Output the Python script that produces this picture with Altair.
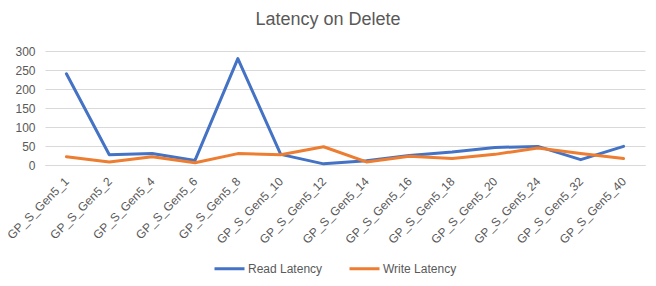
import altair as alt
import pandas as pd

categories = ["GP_S_Gen5_1", "GP_S_Gen5_2", "GP_S_Gen5_4", "GP_S_Gen5_6", "GP_S_Gen5_8",
              "GP_S_Gen5_10", "GP_S_Gen5_12", "GP_S_Gen5_14", "GP_S_Gen5_16", "GP_S_Gen5_18",
              "GP_S_Gen5_20", "GP_S_Gen5_24", "GP_S_Gen5_32", "GP_S_Gen5_40"]
read_latency = [240, 27, 30, 12, 280, 28, 3, 11, 25, 34, 46, 49, 14, 49]
write_latency = [22, 8, 22, 6, 30, 27, 48, 8, 23, 17, 28, 45, 30, 17]
series_names = ["Read Latency", "Write Latency"]
y_ticks = [0, 50, 100, 150, 200, 250, 300]

rows = []
for c, r, w in zip(categories, read_latency, write_latency):
    rows.append({"cat": c, "series": series_names[0], "value": r})
    rows.append({"cat": c, "series": series_names[1], "value": w})
df = pd.DataFrame(rows)

FONT = "Liberation Sans"
GRAY = "#595959"

chart = alt.Chart(df).mark_line(strokeWidth=3, strokeCap="round", strokeJoin="round").encode(
    x=alt.X("cat:N", sort=categories, title=None,
            scale=alt.Scale(type="point", padding=0.5),
            axis=alt.Axis(labelAngle=-45, labelAlign="right", labelBaseline="middle",
                          labelFont=FONT, labelFontSize=12, labelColor=GRAY,
                          ticks=False, domainColor="#D9D9D9", labelPadding=14, grid=False)),
    y=alt.Y("value:Q", title=None,
            scale=alt.Scale(domain=[0, 300], nice=False),
            axis=alt.Axis(values=y_ticks, labelFont=FONT, labelFontSize=12, labelColor=GRAY,
                          ticks=False, domain=False, gridColor="#D9D9D9", labelPadding=10)),
    color=alt.Color("series:N", sort=series_names,
                    scale=alt.Scale(domain=series_names, range=["#4472C4", "#ED7D31"]),
                    legend=alt.Legend(title=None, orient="none", direction="horizontal",
                                      legendX=168, legendY=201,
                                      symbolType="stroke", symbolStrokeWidth=3, symbolSize=900,
                                      labelFont=FONT, labelFontSize=12, labelColor=GRAY,
                                      columnPadding=20, labelOffset=2)),
).properties(
    width=600, height=114,
    title=alt.Title("Latency on Delete", font=FONT, fontSize=18, fontWeight="normal",
                    color=GRAY, dx=-17, offset=16),
    padding={"left": 45, "top": 51, "right": 11, "bottom": 121},
    autosize=alt.AutoSizeParams(type="none"),
).configure_view(stroke=None)

chart.save("out.html", embed_options={"renderer": "svg", "actions": False})
